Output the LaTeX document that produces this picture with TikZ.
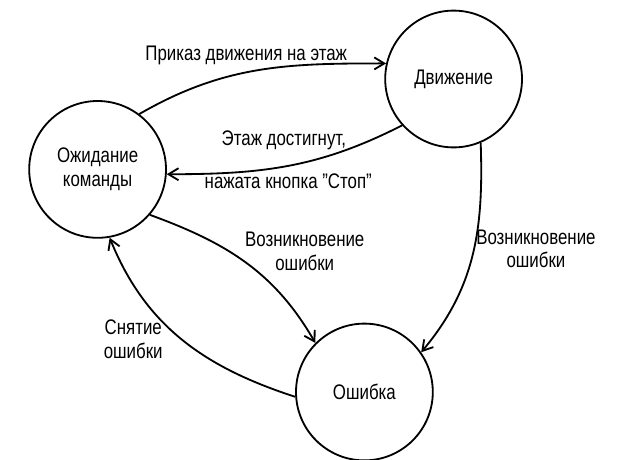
\documentclass[tikz,border=0pt]{standalone}
\usepackage{fontspec}
\setmainfont{Liberation Sans}[FakeStretch=0.8]
\usetikzlibrary{arrows.meta}

\begin{document}
\begin{tikzpicture}[
        line width=1.3pt,
        >={Straight Barb[length=2.5mm,width=3mm]},
        statecirc/.style={circle, draw, minimum size=3.42cm, align=center, font=\fontsize{15}{17}\selectfont},
        lbl/.style={align=center, inner sep=1pt, font=\fontsize{15}{17}\selectfont}
    ]
        \useasboundingbox (0,0) rectangle (15.65,11.475);
        \node[statecirc] (wait) at (2.44, 7.24) {Ожидание\\команды};
        \node[statecirc] (move) at (11.34, 9.50) {Движение};
        \node[statecirc] (err) at (9.11, 1.675) {Ошибка};
        % wait -> move
        \draw[->] (wait.53) to[out=30, in=180] node[lbl, above=4pt, pos=0.45] {Приказ движения на этаж} (move.167);
        % move -> wait
        \draw[->] (move.222) to[out=207, in=0]
            node[lbl, above=10pt, pos=0.52] {Этаж достигнут,}
            node[lbl, below=4pt, pos=0.5] {нажата кнопка "Стоп"} (wait.-4);
        % wait -> err
        \draw[->] (wait.-41) to[out=-20, in=120] node[lbl, above right, pos=0.45, xshift=0.12cm, yshift=-0.4cm] {Возникновение\\ошибки} (err.135);
        % move -> err
        \draw[->] (move.-67.5) to[out=-88, in=50] node[lbl, right, pos=0.47] {Возникновение\\ошибки} (err.35);
        % err -> wait
        \draw[->] (err.184) to[out=162, in=-68] node[lbl, left=12pt, pos=0.5] {Снятие\\ошибки} (wait.-80);
    \end{tikzpicture}
\end{document}
